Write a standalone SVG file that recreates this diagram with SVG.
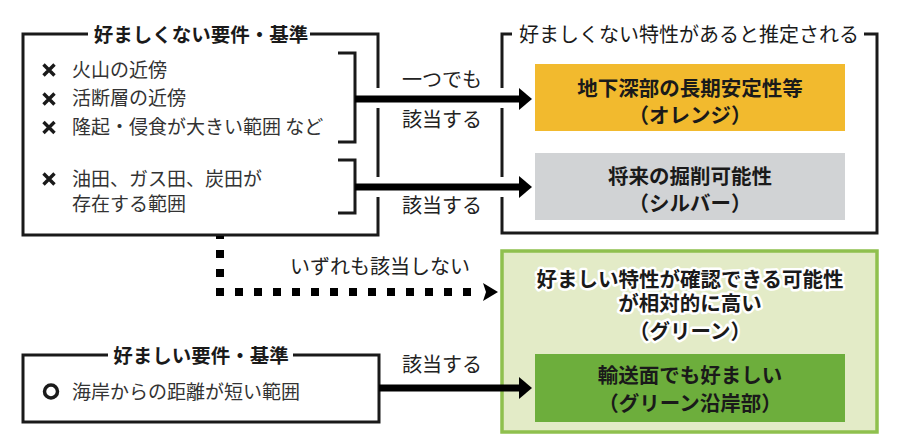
<svg xmlns="http://www.w3.org/2000/svg" width="900" height="447" viewBox="0 0 900 447">
  <defs>
    <style>
      text { font-family: 'Noto Sans CJK JP', 'Noto Sans', sans-serif; }
      .frame { fill: none; stroke: #1a1a1a; stroke-width: 3; }
      .title { font-size: 19.5px; font-weight: 700; fill: #1a1a1a; text-anchor: middle; }
      .title-r { font-size: 20px; font-weight: 400; fill: #1a1a1a; text-anchor: middle; }
      .item { font-size: 19px; fill: #333; }
      .label { font-size: 20px; fill: #222; }
      .node-t { font-size: 20.5px; font-weight: 700; fill: #1a1a1a; text-anchor: middle; }
      .halo { paint-order: stroke; stroke: #fff; stroke-width: 5; stroke-linejoin: round; }
      .conn { fill: none; stroke: #000; stroke-width: 7; }
      .dots { fill: none; stroke: #000; stroke-width: 8; stroke-dasharray: 8 11; }
    </style>
    <symbol id="xmark" viewBox="0 0 12 12" width="12" height="12" overflow="visible">
      <path d="M0.5,0.5 L11.5,11.5 M11.5,0.5 L0.5,11.5" stroke="#1a1a1a" stroke-width="3.4" stroke-linecap="butt" fill="none"/>
    </symbol>
    <marker id="arrow" markerUnits="userSpaceOnUse" markerWidth="14" markerHeight="22" refX="1" refY="11" orient="auto" viewBox="0 0 14 22">
      <path d="M0,0 L13,11 L0,22 z" fill="#000"/>
    </marker>
  </defs>

  <rect width="900" height="447" fill="#fff"/>

  <!-- Unfavourable criteria box -->
  <g id="unfavorable-criteria">
    <path class="frame" d="M88,34 H23 V235 H378 V197 M378,177 V108 M378,88 V34 H310"/>
    <text class="title" x="201" y="42">好ましくない要件・基準</text>
    <use href="#xmark" x="43" y="64"/>
    <text class="item" x="72" y="77">火山の近傍</text>
    <use href="#xmark" x="43" y="93"/>
    <text class="item" x="72" y="105">活断層の近傍</text>
    <use href="#xmark" x="43" y="121.5"/>
    <text class="item" x="72" y="134">隆起・侵食が大きい範囲 など</text>
    <use href="#xmark" x="43" y="173"/>
    <text class="item" x="72" y="186">油田、ガス田、炭田が<tspan x="72" dy="25">存在する範囲</tspan></text>
    <path class="frame" d="M338,53 H355 V142 H338"/>
    <path class="frame" d="M338,160 H355 V213 H338"/>
  </g>

  <!-- Unfavourable properties box -->
  <g id="unfavorable-properties">
    <path class="frame" d="M512,34 H502 V88 M502,108 V177 M502,197 V233 H877 V34 H864"/>
    <text class="title-r" x="689" y="42">好ましくない特性があると推定される</text>
  </g>

  <g id="orange">
    <rect x="535" y="64" width="310" height="67" fill="#F2BA2E"/>
    <text class="node-t" x="690" y="96">地下深部の長期安定性等<tspan x="690" dy="27">（オレンジ）</tspan></text>
  </g>

  <g id="silver">
    <rect x="535" y="153" width="310" height="67" fill="#D1D3D5"/>
    <text class="node-t" x="690" y="184">将来の掘削可能性<tspan x="690" dy="27">（シルバー）</tspan></text>
  </g>

  <!-- Green -->
  <g id="green">
    <rect x="502" y="251" width="375" height="181" fill="#E3EBC7" stroke="#8FC04E" stroke-width="3.5"/>
    <text class="node-t halo" x="690" y="287">好ましい特性が確認できる可能性<tspan x="690" dy="24">が相対的に高い</tspan><tspan x="690" dy="28">（グリーン）</tspan></text>
  </g>

  <g id="green-coastal">
    <rect x="535" y="354" width="310" height="68" fill="#6DAE3C"/>
    <text class="node-t" x="690" y="383">輸送面でも好ましい<tspan x="690" dy="28">（グリーン沿岸部）</tspan></text>
  </g>

  <!-- Favourable criteria box -->
  <g id="favorable-criteria">
    <path class="frame" d="M108,355 H23 V422 H379 V355 H293"/>
    <text class="title" x="201" y="363">好ましい要件・基準</text>
    <circle cx="51" cy="391.5" r="6.5" fill="none" stroke="#1a1a1a" stroke-width="3.5"/>
    <text class="item" x="72" y="399">海岸からの距離が短い範囲</text>
  </g>

  <!-- Connectors -->
  <g id="connectors">
    <path class="conn" d="M355,99 H520" marker-end="url(#arrow)"/>
    <path class="conn" d="M355,187 H520" marker-end="url(#arrow)"/>
    <path class="conn" d="M379,388 H520" marker-end="url(#arrow)"/>
    <path class="dots" d="M220,296 V236"/>
    <path class="dots" d="M216,292 H472"/>
    <polygon points="483,283 498,292 483,301 486,292" fill="#000"/>
    <text class="label" x="402" y="87">一つでも</text>
    <text class="label" x="402" y="127">該当する</text>
    <text class="label" x="402" y="213">該当する</text>
    <text class="label" x="290" y="274">いずれも該当しない</text>
    <text class="label" x="402" y="372">該当する</text>
  </g>
</svg>
